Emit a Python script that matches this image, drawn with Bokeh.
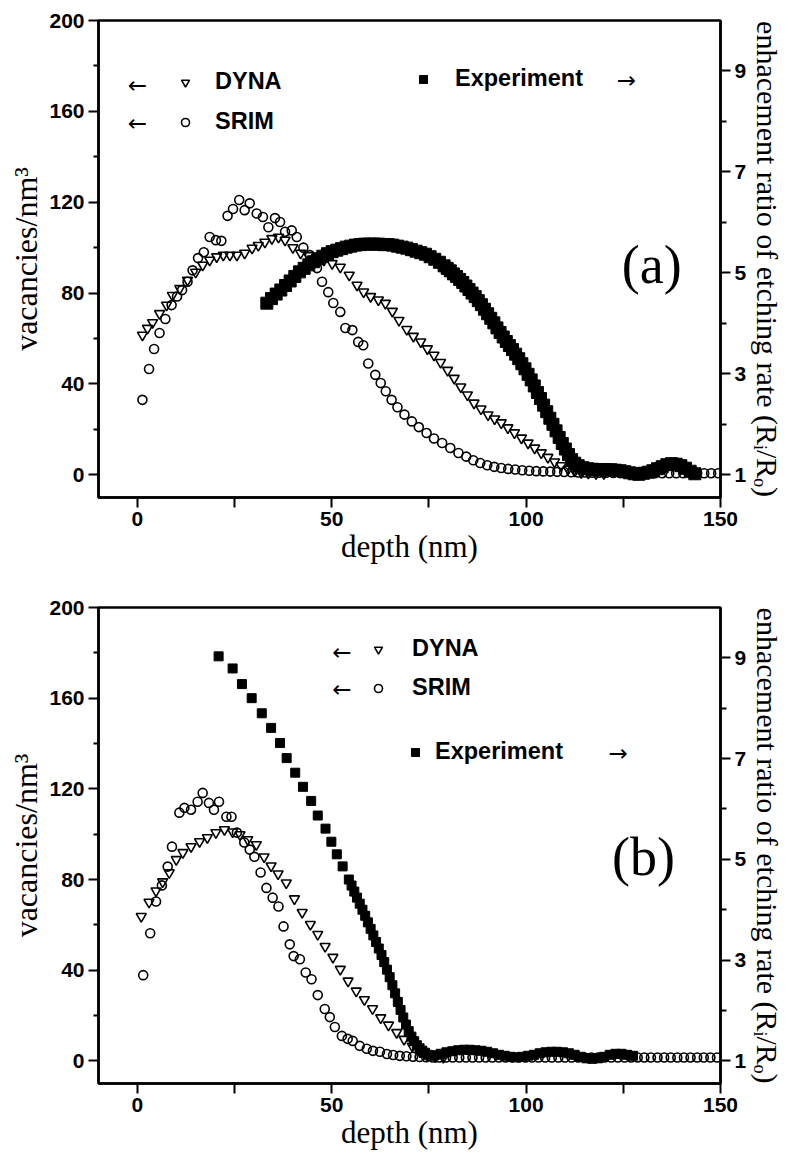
from bokeh.plotting import figure
from bokeh.models import Range1d, LinearAxis, FixedTicker, Label, Legend, LegendItem
from bokeh.layouts import column
from bokeh.embed import file_html
from bokeh.resources import INLINE

# ---------------- data: panel (a) ----------------
SRIM_A_X = [1.3, 3.0, 4.3, 5.7, 7.2, 8.8, 10.2, 11.5, 12.9, 14.2,
            15.6, 17.1, 18.6, 20.2, 21.6, 23.2, 24.6, 26.2, 27.6, 28.9,
            30.7, 32.3, 33.7, 35.4, 36.7, 38.0, 39.7, 41.0, 42.7, 44.4,
            46.2, 47.5, 49.1, 50.4, 52.2, 53.5, 55.3, 56.8, 58.1, 59.4,
            61.2, 62.6, 63.9, 65.4, 66.9, 68.7, 70.6, 72.4, 74.4, 76.3,
            78.4, 80.5, 82.6, 84.6, 86.4, 88.2, 90.0, 91.8, 93.6, 95.4,
            97.2, 99.0, 100.8, 102.6, 104.4, 106.2, 108.0, 109.8, 111.6, 113.4,
            115.2, 117.0, 118.8, 120.6, 122.4, 124.2, 126.0, 127.8, 129.6, 131.4,
            133.2, 135.0, 136.8, 138.6, 140.4, 142.2, 144.0, 145.8, 147.6, 149.4]
SRIM_A_Y = [33.0, 46.6, 55.4, 62.4, 68.6, 74.7, 78.5, 81.3, 85.0, 90.0,
            95.4, 98.0, 104.7, 103.3, 103.0, 114.0, 117.0, 121.0, 116.5, 119.5,
            115.0, 113.5, 109.0, 113.0, 111.3, 107.0, 107.6, 104.7, 100.0, 96.7,
            91.0, 85.0, 80.4, 75.6, 71.7, 64.6, 63.7, 58.5, 57.0, 49.0,
            44.0, 40.4, 36.8, 33.0, 29.7, 26.5, 23.5, 21.0, 18.4, 16.0,
            14.0, 11.8, 9.6, 8.0, 6.4, 5.2, 4.2, 3.5, 3.0, 2.6,
            2.3, 2.0, 1.8, 1.6, 1.5, 1.4, 1.3, 1.2, 1.1, 1.0,
            1.0, 0.9, 0.9, 0.9, 0.8, 0.8, 0.8, 0.8, 0.7, 0.7,
            0.7, 0.7, 0.7, 0.7, 0.7, 0.7, 0.7, 0.7, 0.7, 0.7]

DYNA_A_X = [1.3, 2.6, 3.9, 5.7, 7.5, 9.0, 10.9, 12.9, 15.0, 16.8,
            18.6, 20.4, 22.1, 23.8, 25.6, 27.6, 29.5, 31.1, 32.8, 34.6,
            36.3, 38.0, 40.0, 42.0, 44.0, 46.0, 48.0, 50.1, 52.2, 54.5,
            56.5, 58.2, 60.0, 62.0, 63.8, 65.6, 67.3, 69.3, 71.0, 72.9,
            74.6, 76.3, 78.0, 79.8, 81.5, 83.2, 84.9, 86.6, 88.4, 90.2,
            91.9, 93.6, 95.3, 97.0, 98.8, 100.5, 102.2, 103.9, 105.6, 107.3,
            109.0, 110.8, 112.5, 114.2, 116.0, 118.0, 120.0]
DYNA_A_Y = [61.5, 64.5, 67.0, 71.0, 74.7, 79.0, 82.0, 85.7, 89.2, 92.3,
            94.5, 96.0, 96.7, 96.7, 96.7, 97.6, 99.8, 101.0, 102.4, 104.0,
            104.6, 103.3, 100.0, 97.6, 96.5, 95.5, 94.5, 93.0, 91.4, 87.9,
            83.5, 80.5, 78.5, 77.0, 75.5, 72.0, 68.0, 64.0, 61.0, 58.5,
            55.5, 52.7, 49.5, 46.0, 42.5, 38.7, 35.2, 31.6, 29.0, 26.4,
            24.6, 22.9, 20.7, 18.5, 16.2, 14.0, 11.8, 9.7, 7.7, 5.7,
            4.0, 2.5, 1.6, 1.0, 0.7, 0.5, 0.5]

EXP_A_X = [33.3, 34.5, 35.7, 36.9, 38.1, 39.3, 40.5, 41.7, 42.9, 44.1,
           45.3, 46.5, 47.7, 48.9, 50.1, 51.3, 52.5, 53.7, 54.9, 56.1,
           57.3, 58.5, 59.7, 60.9, 62.1, 63.3, 64.5, 65.7, 66.9, 68.1,
           69.3, 70.5, 71.7, 72.9, 74.1, 75.3, 76.5, 77.7, 78.9,
           79.7, 80.5, 81.3, 82.1, 82.9, 83.7, 84.5, 85.3, 86.1, 86.9,
           87.7, 88.5, 89.3, 90.1, 90.9, 91.7, 92.5, 93.3, 94.1, 94.9,
           95.7, 96.5, 97.3, 98.1, 98.9, 99.7, 100.5, 101.3, 102.1, 102.9,
           103.7, 104.5, 105.3, 106.1, 106.9, 107.7, 108.5, 109.3, 110.1, 110.9,
           111.7, 112.5,
           113.4, 114.6, 115.8, 117.0, 118.2, 119.4, 120.6, 121.8, 123.0, 124.2,
           125.4, 126.6, 127.8, 129.0, 130.2, 131.4, 132.6, 133.8, 135.0, 136.2,
           137.4, 138.6, 139.8, 141.0, 142.2, 143.4]
EXP_A_Y = [4.40, 4.49, 4.58, 4.66, 4.75, 4.84, 4.93, 5.02, 5.09, 5.16,
           5.22, 5.28, 5.33, 5.38, 5.42, 5.45, 5.48, 5.51, 5.53, 5.55,
           5.56, 5.57, 5.57, 5.57, 5.57, 5.56, 5.56, 5.55, 5.53, 5.51,
           5.49, 5.46, 5.43, 5.40, 5.37, 5.32, 5.27, 5.21, 5.14,
           5.09, 5.04, 4.98, 4.93, 4.87, 4.81, 4.74, 4.67, 4.60, 4.53,
           4.45, 4.37, 4.28, 4.19, 4.10, 4.01, 3.91, 3.82, 3.73, 3.64,
           3.56, 3.48, 3.39, 3.30, 3.20, 3.10, 2.99, 2.88, 2.76, 2.63,
           2.51, 2.38, 2.25, 2.12, 2.00, 1.87, 1.74, 1.62, 1.51, 1.40,
           1.30, 1.23,
           1.18, 1.14, 1.12, 1.11, 1.10, 1.10, 1.10, 1.10, 1.09, 1.08,
           1.06, 1.04, 1.02, 1.01, 1.03, 1.05, 1.08, 1.12, 1.16, 1.20,
           1.22, 1.21, 1.18, 1.13, 1.07, 1.02]

# ---------------- data: panel (b) ----------------
SRIM_B_X = [1.5, 3.3, 4.8, 6.3, 7.8, 8.9, 10.8, 12.1, 13.8, 15.5,
            16.8, 18.4, 19.7, 21.0, 22.9, 24.2, 25.6, 27.5, 28.9, 30.1,
            31.7, 33.2, 34.8, 36.3, 37.6, 39.2, 40.2, 41.8, 43.3, 44.8,
            46.4, 48.2, 49.5, 50.8, 52.6, 54.1, 55.4, 57.2, 59.0, 60.6,
            62.4, 64.2, 65.8, 67.5, 69.2, 70.9, 72.6, 74.3, 76.0, 77.7,
            79.4, 81.1, 82.8, 84.5, 86.2, 87.9, 89.6, 91.3, 93.0, 94.7,
            96.4, 98.1, 99.8, 101.5, 103.2, 104.9, 106.6, 108.3, 110.0, 111.7,
            113.4, 115.1, 116.8, 118.5, 120.2, 121.9, 123.6, 125.3, 127.0, 128.7,
            130.4, 132.1, 133.8, 135.5, 137.2, 138.9, 140.6, 142.3, 144.0, 145.7,
            147.4, 149.1]
SRIM_B_Y = [37.8, 56.3, 70.3, 77.4, 85.7, 94.5, 109.5, 111.6, 110.8, 114.3,
            118.2, 113.8, 110.8, 114.3, 107.7, 107.7, 100.7, 96.3, 93.2, 90.0,
            83.1, 76.3, 72.0, 68.1, 59.3, 51.4, 46.2, 44.8, 39.0, 36.0,
            29.0, 22.9, 19.3, 14.9, 11.0, 9.7, 8.8, 6.6, 5.3, 4.4,
            4.0, 3.0, 2.6, 2.2, 2.0, 1.8, 1.7, 1.6, 1.5, 1.5,
            1.5, 1.5, 1.5, 1.5, 1.5, 1.5, 1.5, 1.5, 1.5, 1.5,
            1.5, 1.5, 1.5, 1.5, 1.5, 1.5, 1.5, 1.5, 1.5, 1.5,
            1.5, 1.5, 1.5, 1.5, 1.5, 1.5, 1.5, 1.5, 1.5, 1.5,
            1.5, 1.5, 1.5, 1.5, 1.5, 1.5, 1.5, 1.5, 1.5, 1.5,
            1.5, 1.5]

DYNA_B_X = [1.0, 3.0, 4.8, 6.5, 8.2, 10.0, 11.7, 13.8, 16.0, 18.0,
            20.2, 22.4, 24.5, 26.4, 28.4, 30.6, 32.6, 34.4, 36.2, 38.3,
            40.4, 42.4, 44.5, 46.4, 48.3, 50.3, 52.2, 54.2, 56.3, 58.4,
            60.5, 62.6, 64.6, 66.7, 68.6, 70.7, 72.7, 74.7, 76.7, 78.7]
DYNA_B_Y = [63.7, 70.0, 75.0, 79.0, 83.0, 88.8, 91.9, 94.5, 96.7, 98.5,
            100.7, 102.0, 101.0, 99.8, 97.6, 95.4, 90.0, 86.0, 82.5, 78.5,
            71.5, 65.5, 60.2, 55.8, 50.5, 45.7, 40.4, 35.2, 30.8, 27.0,
            23.0, 19.0, 15.8, 12.5, 9.5, 6.5, 4.0, 2.5, 1.8, 1.5]

EXP_B_X = [20.9, 24.5, 26.9, 29.4, 32.0, 34.4, 36.7, 38.4, 40.6, 42.6,
           44.7, 46.4, 48.4, 49.9, 51.3, 52.8, 54.4,
           55.1, 55.8, 56.5, 57.2, 57.9, 58.6, 59.3, 60.0, 60.7, 61.4,
           62.1, 62.8, 63.5, 64.2, 64.9, 65.6, 66.3, 67.0, 67.7, 68.4,
           69.1, 69.8, 70.5, 71.2, 71.9, 72.6, 73.3, 74.0, 74.7, 75.4,
           76.5, 78.0, 79.5, 81.0, 82.5, 84.0, 85.5, 87.0, 88.5, 90.0,
           91.5, 93.0, 94.5, 96.0, 97.5, 99.0, 100.5, 102.0, 103.5, 105.0,
           106.5, 108.0, 109.5, 111.0, 112.5, 114.0, 115.5, 117.0, 118.5, 120.0,
           121.5, 123.0, 124.5, 126.0, 127.5]
EXP_B_Y = [9.03, 8.79, 8.48, 8.20, 7.90, 7.61, 7.31, 7.01, 6.72, 6.44,
           6.16, 5.87, 5.61, 5.35, 5.10, 4.86, 4.60,
           4.48, 4.36, 4.24, 4.12, 4.00, 3.88, 3.75, 3.62, 3.49, 3.36,
           3.23, 3.10, 2.96, 2.81, 2.66, 2.50, 2.34, 2.17, 2.01, 1.86,
           1.72, 1.59, 1.48, 1.39, 1.31, 1.25, 1.20, 1.16, 1.12, 1.10,
           1.11, 1.14, 1.17, 1.19, 1.21, 1.22, 1.22, 1.21, 1.20, 1.18,
           1.15, 1.12, 1.10, 1.08, 1.07, 1.08, 1.10, 1.12, 1.15, 1.17,
           1.18, 1.18, 1.17, 1.15, 1.12, 1.08, 1.05, 1.04, 1.05, 1.08,
           1.12, 1.14, 1.14, 1.12, 1.10]

# ---------------- axis ticks / labels ----------------
X_TICKS = [0, 50, 100, 150]
X_MINOR = [25, 75, 125]
LEFT_TICKS = [0, 40, 80, 120, 160, 200]
LEFT_MINOR = [20, 60, 100, 140, 180]
RIGHT_TICKS = [1, 3, 5, 7, 9]
RIGHT_MINOR = [2, 4, 6, 8]
X_LABEL = "depth (nm)"
LEFT_LABEL = "vacancies/nm\u00b3"
RIGHT_LABEL = "enhacement ratio of etching rate (R\u1d62/R\u2092)"

SANS = "Liberation Sans"
SERIF = "Liberation Serif"


def style_axis(ax, ticks, minor, major_out, minor_out, standoff, label, label_size, label_standoff):
    ax.ticker = FixedTicker(ticks=ticks, minor_ticks=minor)
    ax.axis_line_width = 2.5
    ax.axis_line_color = "black"
    ax.major_tick_line_width = 2
    ax.minor_tick_line_width = 2
    ax.major_tick_line_color = "black"
    ax.minor_tick_line_color = "black"
    ax.major_tick_in = 0
    ax.major_tick_out = major_out
    ax.minor_tick_in = 0
    ax.minor_tick_out = minor_out
    ax.major_label_text_font = SANS
    ax.major_label_text_font_style = "bold"
    ax.major_label_text_font_size = "21px"
    ax.major_label_text_color = "black"
    ax.major_label_standoff = standoff
    ax.axis_label = label
    ax.axis_label_text_font = SERIF
    ax.axis_label_text_font_style = "normal"
    ax.axis_label_text_font_size = label_size
    ax.axis_label_text_color = "black"
    ax.axis_label_standoff = label_standoff


def make_panel(height, b_top, b_bottom, srim_x, srim_y, dyna_x, dyna_y, exp_x, exp_y, exp_size):
    p = figure(width=793, height=height,
               x_range=Range1d(-10, 150), y_range=Range1d(-10, 200),
               output_backend="svg", toolbar_location=None,
               min_border_left=98, min_border_right=73,
               min_border_top=b_top, min_border_bottom=b_bottom,
               background_fill_color="white", border_fill_color="white")
    p.extra_y_ranges = {"right": Range1d(0.55, 10)}
    p.outline_line_color = "black"
    p.outline_line_width = 2.5
    p.outline_line_alpha = 1.0
    p.xgrid.visible = False
    p.ygrid.visible = False

    style_axis(p.below[0], X_TICKS, X_MINOR, 10, 10, 4, X_LABEL, "31px", 0)
    style_axis(p.left[0], LEFT_TICKS, LEFT_MINOR, 10, 5, 4, LEFT_LABEL, "32px", 2)
    rax = LinearAxis(y_range_name="right")
    style_axis(rax, RIGHT_TICKS, RIGHT_MINOR, 10, 6, 4, RIGHT_LABEL, "30px", 2)
    p.add_layout(rax, "right")

    r_dyna = p.scatter(dyna_x, dyna_y, marker="inverted_triangle", size=10,
                       fill_color=None, line_color="black", line_width=1.6)
    r_srim = p.scatter(srim_x, srim_y, marker="circle", size=9,
                       fill_color=None, line_color="black", line_width=1.6)
    r_exp = p.scatter(exp_x, exp_y, marker="square", size=exp_size,
                      fill_color="black", line_color="black", line_width=1,
                      y_range_name="right")
    return p, r_dyna, r_srim, r_exp


def add_legend(p, items, loc, standoff, spacing):
    leg = Legend(items=[LegendItem(label=t, renderers=[r]) for t, r in items],
                 location=loc, orientation="vertical",
                 label_text_font=SANS, label_text_font_style="bold",
                 label_text_font_size="23.5px", label_text_color="black",
                 glyph_width=20, glyph_height=24, label_height=24,
                 spacing=spacing, padding=0, margin=0,
                 label_standoff=standoff,
                 border_line_alpha=0, background_fill_alpha=0)
    p.add_layout(leg)


def add_text(p, x, y, text, font, size, align="center"):
    p.add_layout(Label(x=x, y=y, text=text, text_font=font, text_font_size=size,
                       text_align=align, text_baseline="middle", text_color="black"))


# ---------------- panel (a) ----------------
pa, da, sa, ea = make_panel(588, 20, 91, SRIM_A_X, SRIM_A_Y, DYNA_A_X, DYNA_A_Y,
                            EXP_A_X, EXP_A_Y, 12)
add_legend(pa, [("DYNA", da), ("SRIM", sa)], (77, 362), 20, 13)
add_legend(pa, [("Experiment", ea)], (315, 405), 22, 0)
add_text(pa, 0.0, 171.4, "\u2190", "DejaVu Sans", "23px")
add_text(pa, 0.0, 154.7, "\u2190", "DejaVu Sans", "23px")
add_text(pa, 125.8, 173.6, "\u2192", "DejaVu Sans", "23px")
add_text(pa, 132.3, 92.3, "(a)", SERIF, "54px")

# ---------------- panel (b) ----------------
pb, db, sb, eb = make_panel(571, 19, 76, SRIM_B_X, SRIM_B_Y, DYNA_B_X, DYNA_B_Y,
                            EXP_B_X, EXP_B_Y, 9)
add_legend(pb, [("DYNA", db), ("SRIM", sb)], (270, 382), 24, 12)
add_legend(pb, [("Experiment", eb)], (307, 318), 10, 0)
add_text(pb, 52.6, 180.2, "\u2190", "DejaVu Sans", "23px")
add_text(pb, 52.6, 164.0, "\u2190", "DejaVu Sans", "23px")
add_text(pb, 123.7, 135.8, "\u2192", "DejaVu Sans", "23px")
add_text(pb, 130.2, 90.1, "(b)", SERIF, "54px")

layout = column(pa, pb)
open("out.html", "w").write(file_html(layout, INLINE))
